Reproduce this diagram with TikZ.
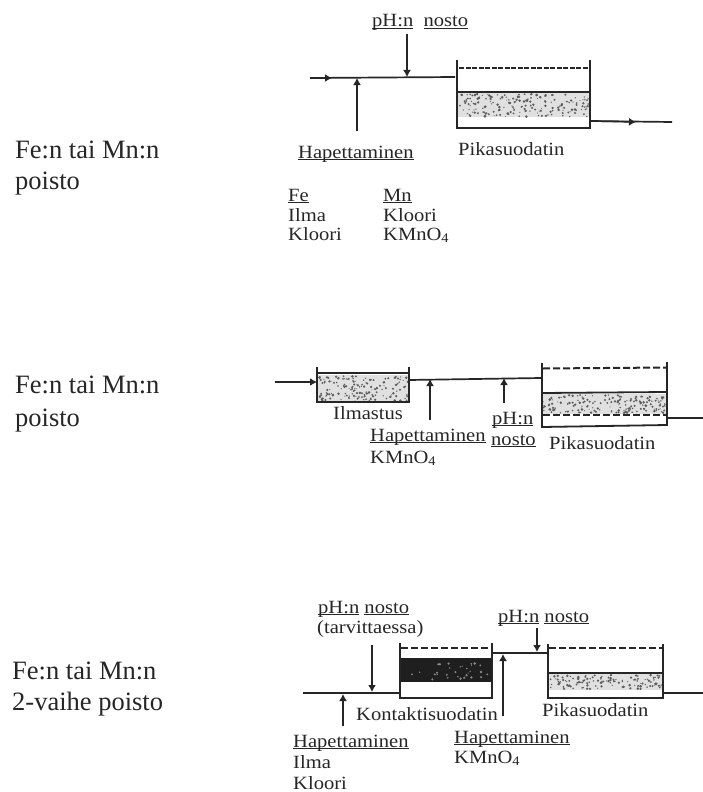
\documentclass[tikz,border=0pt]{standalone}
\usepackage{fontspec}
\setmainfont{Liberation Serif}
\newfontfamily\labfont[FakeStretch=1.1]{Liberation Serif}
\usetikzlibrary{arrows.meta}
\definecolor{ink}{gray}{0.15}
\newcommand{\ul}[1]{\underline{\smash{#1}}}
\tikzset{
  x=1pt,y=-1pt,
  big/.style={anchor=base west,inner sep=0pt,text=ink,font=\fontsize{26.5}{26.5}\selectfont},
  lab/.style={anchor=base west,inner sep=0pt,text=ink,font=\labfont\fontsize{18.7}{18.7}\selectfont},
  pipe/.style={draw=ink,line width=1.7pt},
  tip/.style={draw=ink,line width=1.5pt,-{Latex[length=7pt,width=8pt]}},
  wall/.style={draw=ink,line width=1.8pt},
  water/.style={draw=ink,line width=2pt,dash pattern=on 7pt off 3pt},
}
% stipple: x1 x2 y1 y2 n colour
\newcommand{\stipple}[6]{%
  \foreach \i in {1,...,#5}{%
    \pgfmathsetmacro{\sx}{#1+rnd*(#2-#1)}%
    \pgfmathsetmacro{\sy}{#3+rnd*(#4-#3)}%
    \pgfmathsetmacro{\sr}{0.5+rnd*0.9}%
    \fill[#6] (\sx,\sy) circle[radius=\sr];
  }}
\begin{document}
\begin{tikzpicture}
\pgfmathsetseed{42}
\useasboundingbox (0,0) rectangle (703,792);
\fill[white] (0,0) rectangle (703,792);

% ---------- left captions
\node[big] (c1a) at (15,158) {Fe:n tai Mn:n};
\node[big] (c1b) at (15,189) {poisto};
\node[big] (c2a) at (15,393) {Fe:n tai Mn:n};
\node[big] (c2b) at (15,426) {poisto};
\node[big] (c3a) at (12,679) {Fe:n tai Mn:n};
\node[big] (c3b) at (12,710) {2-vaihe poisto};

% ---------- diagram 1
\coordinate (a0) at (310,78);
\coordinate (a0m) at (332,78);
\coordinate (a1) at (455,77);
\coordinate (a2) at (357,131);
\coordinate (a2e) at (357,78);
\coordinate (a3) at (407,34);
\coordinate (a3e) at (407,77);
\coordinate (a4) at (590,121);
\coordinate (a4m) at (636,122);
\coordinate (a5) at (672,122);
\fill[black!12] (458,93) rectangle (590,117);
\stipple{459}{589}{94}{117}{190}{ink!75}
\draw[water,line width=2.4pt,dash pattern=on 5pt off 1.5pt] (459,68) -- (589,68);
\draw[wall] (457,60) -- (457,128) -- (590,128) -- (590,60);
\draw[wall] (457,92) -- (590,92);
\draw[pipe] (a0) -- (a1);
\draw[tip] (a0) -- (a0m);
\draw[tip] (a2) -- (a2e);
\draw[tip] (a3) -- (a3e);
\draw[pipe] (a4) -- (a5);
\draw[tip] (a4) -- (a4m);
\node[lab] (t1) at (372,27) {\ul{pH:n}\ \ \ul{nosto}};
\node[lab] (t2) at (298,158) {\ul{Hapettaminen}};
\node[lab] (t3) at (458,155) {Pikasuodatin};
\node[lab] (t4) at (288,201) {\ul{Fe}};
\node[lab] (t5) at (288,221) {Ilma};
\node[lab] (t6) at (288,240) {Kloori};
\node[lab] (t7) at (383,201) {\ul{Mn}};
\node[lab] (t8) at (383,221) {Kloori};
\node[lab] (t9) at (383,240) {KMnO\textsubscript{4}};

% ---------- diagram 2
\coordinate (b0) at (275,382);
\coordinate (b0e) at (317,382);
\coordinate (b1) at (409,380);
\coordinate (b2) at (541,378);
\coordinate (b3) at (430,420);
\coordinate (b3e) at (430,379);
\coordinate (b4) at (504,403);
\coordinate (b4e) at (504,378);
\coordinate (b5) at (667,418);
\coordinate (b6) at (703,418);
\fill[black!12] (318,375) rectangle (409,402);
\stipple{319}{408}{376}{401}{160}{ink!75}
\fill[black!12] (543,394) rectangle (667,414);
\stipple{543}{666}{395}{413}{170}{ink!75}
\draw[wall] (317,367) -- (317,402) -- (409,402) -- (409,367);
\draw[wall] (317,373) -- (409,373);
\draw[water] (543,368.5) -- (667,367.5);
\draw[water] (543,415) -- (667,415);
\draw[wall] (542,363) -- (542,427) -- (667,425) -- (667,362);
\draw[wall] (542,393) -- (667,392);
\draw[pipe] (b1) -- (b2);
\draw[tip] (b0) -- (b0e);
\draw[tip] (b3) -- (b3e);
\draw[tip] (b4) -- (b4e);
\draw[pipe] (b5) -- (b6);
\node[lab] (u1) at (333,419) {Ilmastus};
\node[lab] (u2) at (370,441) {\ul{Hapettaminen}};
\node[lab] (u3) at (370,463) {KMnO\textsubscript{4}};
\node[lab] (u4) at (492,424) {\ul{pH:n}};
\node[lab] (u5) at (491,445) {\ul{nosto}};
\node[lab] (u6) at (549,449) {Pikasuodatin};

% ---------- diagram 3
\coordinate (d0) at (303,693);
\coordinate (d1) at (400,693);
\coordinate (d2) at (343,726);
\coordinate (d2e) at (343,694);
\coordinate (d3) at (372,645);
\coordinate (d3e) at (372,692);
\coordinate (d4) at (492,653);
\coordinate (d5) at (548,653);
\coordinate (d6) at (503,716);
\coordinate (d6e) at (503,654);
\coordinate (d7) at (537,628);
\coordinate (d7e) at (537,652);
\coordinate (d8) at (663,693);
\coordinate (d9) at (703,693);
\fill[black!88] (400,658) rectangle (492,682);
\stipple{402}{490}{662}{681}{30}{black!45}
\fill[black!12] (549,674) rectangle (663,690);
\stipple{550}{662}{675}{689}{130}{ink!75}
\draw[water] (401,648) -- (491,648);
\draw[water] (549,648) -- (662,648);
\draw[wall] (400,643) -- (400,698) -- (492,698) -- (492,643);
\draw[wall] (548,644) -- (548,698) -- (663,698) -- (663,644);
\draw[wall] (548,673) -- (663,673);
\draw[pipe] (d0) -- (d1);
\draw[pipe] (d4) -- (d5);
\draw[pipe] (d8) -- (d9);
\draw[tip] (d2) -- (d2e);
\draw[tip] (d3) -- (d3e);
\draw[tip] (d6) -- (d6e);
\draw[tip] (d7) -- (d7e);
\node[lab] (v1) at (318,613) {\ul{pH:n} \ul{nosto}};
\node[lab] (v2) at (317,633) {(tarvittaessa)};
\node[lab] (v3) at (498,622) {\ul{pH:n} \ul{nosto}};
\node[lab] (v4) at (356,720) {Kontaktisuodatin};
\node[lab] (v5) at (542,716) {Pikasuodatin};
\node[lab] (v6) at (293,747) {\ul{Hapettaminen}};
\node[lab] (v7) at (293,768) {Ilma};
\node[lab] (v8) at (293,789) {Kloori};
\node[lab] (v9) at (454,743) {\ul{Hapettaminen}};
\node[lab] (v10) at (454,763) {KMnO\textsubscript{4}};
\end{tikzpicture}
\end{document}
